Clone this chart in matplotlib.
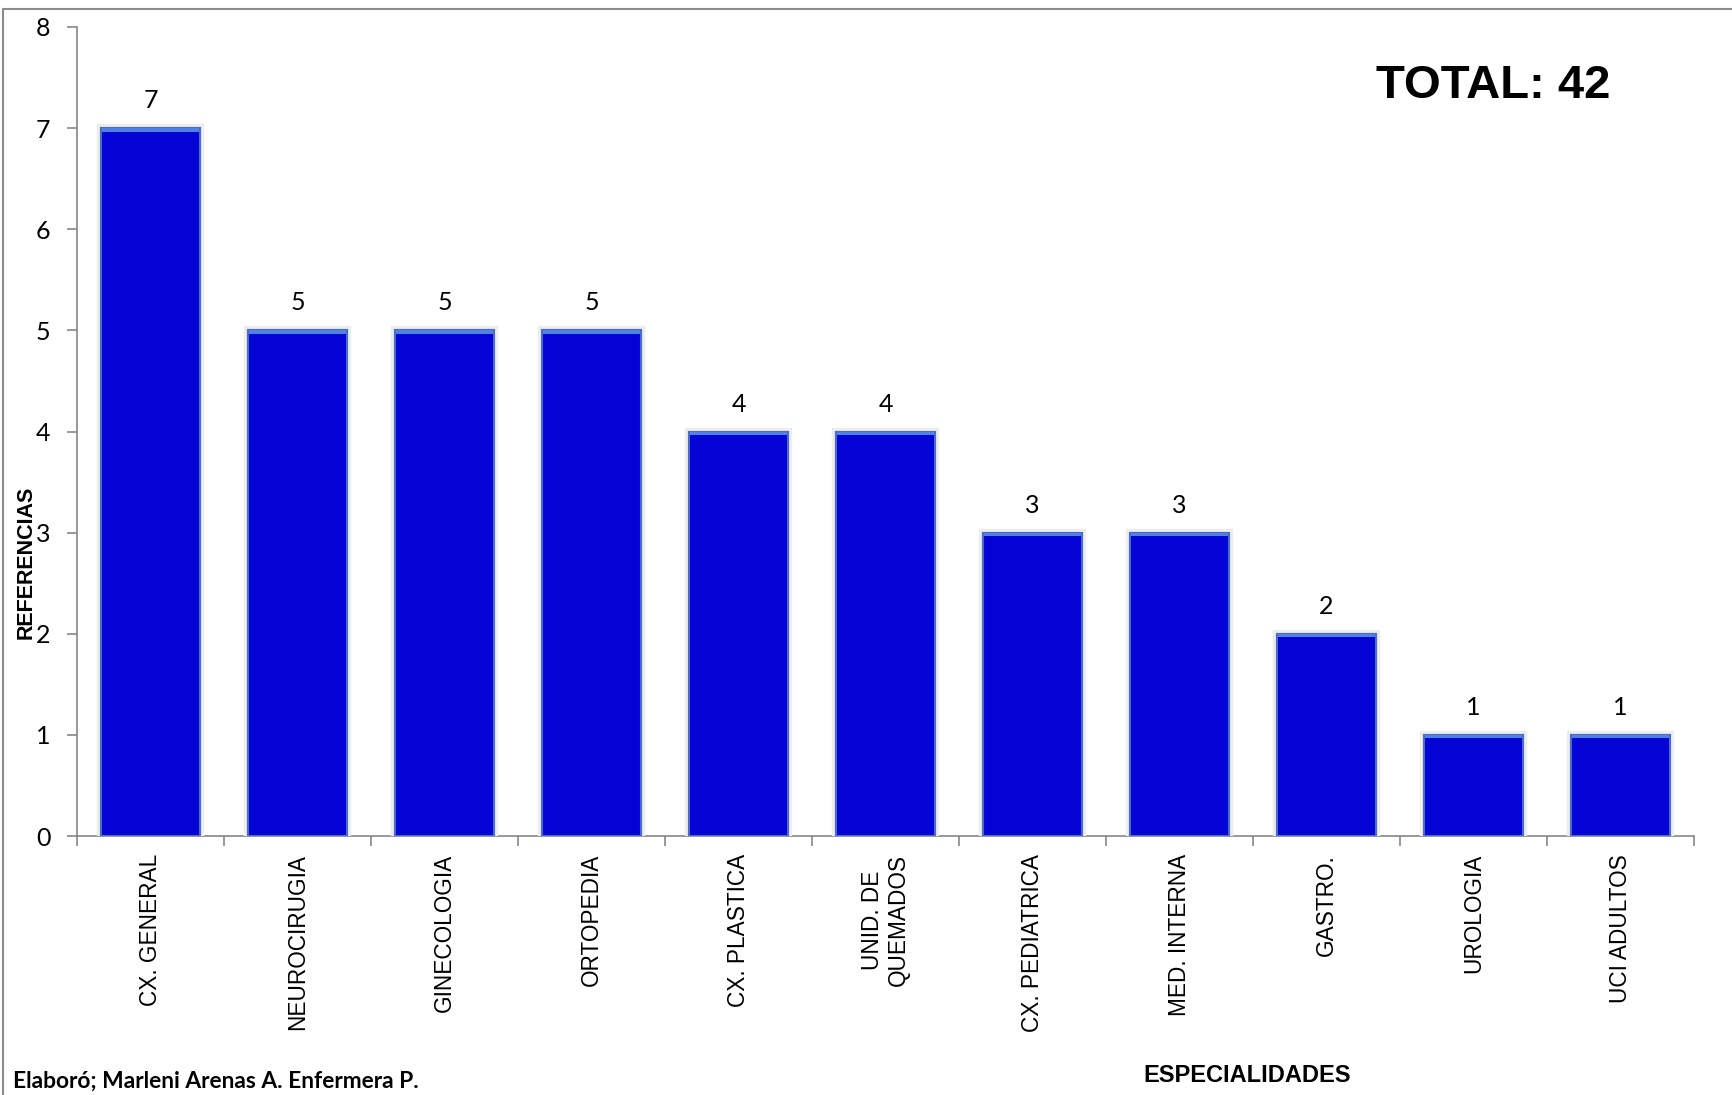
import matplotlib
matplotlib.use('Agg')
import matplotlib.pyplot as plt
import matplotlib.patheffects as pe
from matplotlib.patches import Rectangle
import numpy as np

# Data
especialidades = ['CX. GENERAL', 'NEUROCIRUGIA', 'GINECOLOGIA', 'ORTOPEDIA',
                  'CX. PLASTICA', 'UNID. DE\nQUEMADOS', 'CX. PEDIATRICA',
                  'MED. INTERNA', 'GASTRO.', 'UROLOGIA', 'UCI ADULTOS']
referencias = [7, 5, 5, 5, 4, 4, 3, 3, 2, 1, 1]
y_ticks = [0, 1, 2, 3, 4, 5, 6, 7, 8]

W, H = 1733, 1095
fig = plt.figure(figsize=(W / 100, H / 100), dpi=100)
ax = fig.add_axes([77 / W, 1 - 836 / H, (1694 - 77) / W, (836 - 27) / H])

x = np.arange(len(especialidades))

# Bars with a soft gray glow around them and a lighter top bevel
bars = ax.bar(x, referencias, width=0.68, color='#0303d6', edgecolor='#4a6cc8',
              linewidth=1.5, zorder=3)
for b in bars:
    b.set_path_effects([pe.withStroke(linewidth=6, foreground='#ededed'), pe.Normal()])
ax.bar(x, [0.035] * len(x), bottom=np.array(referencias) - 0.035, width=0.665,
       color='#4f80e2', linewidth=0, zorder=4)

# Value labels above bars
for xi, v in zip(x, referencias):
    ax.annotate(str(v), (xi, v), xytext=(0, 14.4), textcoords='offset points',
                ha='center', va='baseline', fontsize=18, family='Lato')

ax.set_xlim(-0.5, len(x) - 0.5)
ax.set_ylim(0, 8)
ax.set_yticks(y_ticks)
ax.set_yticklabels([str(t) for t in y_ticks], fontsize=18, family='Lato')
ax.tick_params(axis='y', length=7, width=1.2, color='#868686', pad=12)

ax.set_xticks(x)
ax.set_xticklabels(especialidades, rotation=90, fontsize=16.3, family='Liberation Sans',
                   multialignment='center')
ax.set_xticks(np.arange(-0.5, len(x), 1.0), minor=True)
ax.tick_params(axis='x', which='major', length=0, pad=13)
ax.tick_params(axis='x', which='minor', length=7, width=1.2, color='#868686')

for s in ['top', 'right']:
    ax.spines[s].set_visible(False)
for s in ['left', 'bottom']:
    ax.spines[s].set_color('#868686')
    ax.spines[s].set_linewidth(1.2)

# Axis titles and annotations
fig.text(26 / W, 1 - 562 / H, 'REFERENCIAS', rotation=90, ha='center', va='center',
         fontsize=15.5, fontweight='bold', family='Liberation Sans')
fig.text(1247 / W, 1 - 1082 / H, 'ESPECIALIDADES', ha='center', va='baseline',
         fontsize=17, fontweight='bold', family='Liberation Sans')
fig.text(1493 / W, 1 - 86 / H, 'TOTAL: 42', ha='center', va='center',
         fontsize=34, fontweight='bold', family='Liberation Sans')
fig.text(13 / W, 1 - 1088 / H, 'Elaboró; Marleni Arenas A. Enfermera P.', ha='left',
         va='baseline', fontsize=16.4, fontweight='bold', family='Lato')

# Outer frame of the chart area
fig.patches.append(Rectangle((3 / W, -0.05), 1.1, 1 - 9 / H + 0.05,
                             transform=fig.transFigure, fill=False,
                             edgecolor='#8c8c8c', linewidth=1.5))

fig.savefig('out.png', dpi=100)
